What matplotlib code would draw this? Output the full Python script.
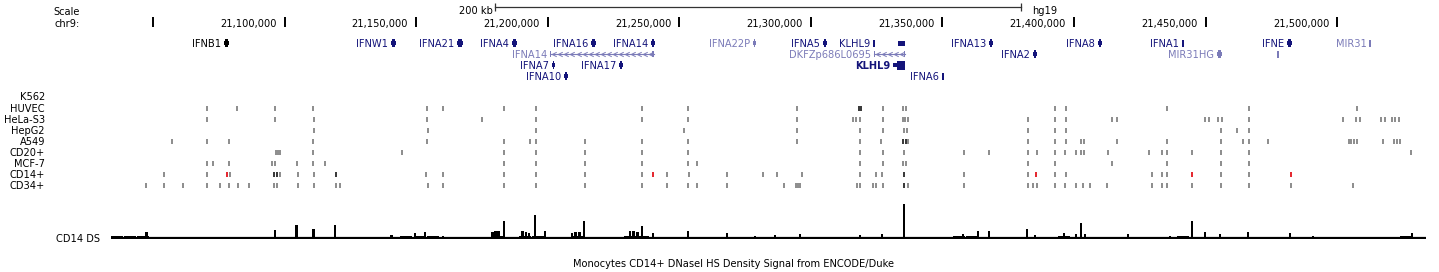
import numpy as np
import matplotlib
matplotlib.use('Agg')
from matplotlib import pyplot as plt
from matplotlib.patches import Rectangle
import matplotlib.transforms as mtransforms

W, H, DPI = 1439, 272, 100
X0, X1 = 20991.86, 21538.68   # chr9 position (kb) at the left / right image edge
FS = 7.1

# ---- ruler ----
ruler_pos = np.arange(21050, 21501, 50)
ruler_txt = ['', '21,100,000', '21,150,000', '21,200,000', '21,250,000', '21,300,000',
             '21,350,000', '21,400,000', '21,450,000', '21,500,000']
scale_bar = [21180, 21380]   # 200 kb

# ---- genes (kb) ----
gene_names = ['IFNB1', 'IFNW1', 'IFNA21', 'IFNA4', 'IFNA16', 'IFNA14', 'IFNA22P', 'IFNA5', 'KLHL9', '',
              'IFNA13', 'IFNA8', 'IFNA1', 'IFNE', 'MIR31',
              'IFNA14', 'DKFZp686L0695', 'IFNA2', 'MIR31HG', '',
              'IFNA7', 'IFNA17', 'KLHL9',
              'IFNA10', 'IFNA6']
gene_start = [21077.0, 21140.4, 21165.5, 21186.4, 21216.4, 21239.2, 21278.0, 21304.6, 21323.6, 21333.1,
              21367.7, 21409.1, 21440.9, 21480.9, 21512.1,
              21200.9, 21324.0, 21384.4, 21454.3, 21477.1,
              21201.6, 21227.1, 21331.2,
              21206.2, 21349.8]
gene_end = [21078.9, 21142.3, 21167.8, 21188.3, 21218.3, 21240.8, 21279.1, 21306.1, 21324.4, 21335.8,
            21369.2, 21410.6, 21441.7, 21482.8, 21512.7,
            21240.4, 21335.8, 21385.9, 21456.2, 21477.7,
            21202.8, 21228.6, 21335.8,
            21207.7, 21350.5]
gene_row = [0] * 15 + [1] * 5 + [2] * 3 + [3] * 2
gene_status = ['other', 'reviewed', 'reviewed', 'reviewed', 'reviewed', 'reviewed', 'noncoding', 'reviewed',
               'reviewed', 'reviewed', 'reviewed', 'reviewed', 'reviewed', 'reviewed', 'noncoding',
               'noncoding', 'noncoding', 'reviewed', 'noncoding', 'noncoding',
               'reviewed', 'reviewed', 'canonical',
               'reviewed', 'reviewed']

# ---- DNaseI hypersensitive sites (kb) ----
dhs_cells = ['K562', 'HUVEC', 'HeLa-S3', 'HepG2', 'A549', 'CD20+', 'MCF-7', 'CD14+', 'CD34+']
k562 = []
huvec = [21070.5, 21081.9, 21096.4, 21110.8, 21154.1, 21160.2, 21183.4, 21195.5, 21235.8, 21253.3,
         21294.7, 21318.2, 21318.9, 21327.4, 21335.0, 21336.1, 21392.8, 21396.9, 21435.3, 21466.5, 21507.5]
hela = [21070.5, 21096.4, 21111.2, 21154.1, 21175.0, 21195.5, 21235.8, 21253.3, 21294.7, 21316.0,
        21317.1, 21318.7, 21327.4, 21334.9, 21335.9, 21337.0, 21382.5, 21392.8, 21396.9, 21414.4,
        21416.3, 21449.8, 21451.3, 21454.7, 21456.2, 21466.5, 21502.2, 21507.1, 21508.7, 21516.6,
        21518.2, 21520.8, 21522.0, 21523.5]
hepg2 = [21111.2, 21154.5, 21195.5, 21251.8, 21294.7, 21318.7, 21327.4, 21335.4, 21336.5, 21382.5,
         21392.8, 21396.9, 21455.8, 21461.9, 21466.5]
a549 = [21057.2, 21070.5, 21078.9, 21110.8, 21154.1, 21183.4, 21193.3, 21195.5, 21214.2, 21235.8,
        21253.3, 21294.7, 21318.7, 21326.6, 21335.0, 21336.0, 21337.0, 21382.5, 21392.8, 21396.9,
        21402.5, 21403.7, 21416.3, 21435.3, 21455.8, 21464.2, 21466.5, 21473.7, 21504.3, 21505.4,
        21506.5, 21507.7, 21517.4, 21521.6, 21522.7, 21523.9]
cd20 = [21096.6, 21097.4, 21098.1, 21110.8, 21144.6, 21183.4, 21195.5, 21214.2, 21235.8, 21253.3,
        21318.7, 21327.4, 21335.4, 21358.2, 21367.7, 21382.5, 21385.9, 21392.8, 21396.6, 21400.7,
        21402.5, 21403.7, 21412.9, 21428.5, 21433.4, 21435.3, 21444.8, 21455.8, 21466.5, 21528.0]
mcf7 = [21070.5, 21072.8, 21078.9, 21095.2, 21096.4, 21104.7, 21110.8, 21115.4, 21183.4, 21195.5,
        21214.2, 21235.8, 21253.3, 21256.7, 21318.7, 21327.4, 21335.0, 21336.1, 21382.5, 21392.8,
        21414.4, 21435.3, 21455.8, 21466.5]
cd14 = [21054.2, 21070.5, 21078.1, 21079.3, 21096.0, 21097.1, 21098.3, 21105.1, 21111.2, 21119.5,
        21153.7, 21160.2, 21183.4, 21195.5, 21214.2, 21235.8, 21240.0, 21245.3, 21253.7, 21268.1,
        21281.8, 21287.1, 21296.6, 21318.7, 21324.7, 21327.0, 21335.4, 21358.2, 21382.5, 21385.5,
        21392.8, 21396.9, 21429.6, 21433.4, 21435.3, 21444.8, 21455.8, 21466.5, 21482.4]
cd34 = [21047.3, 21054.2, 21061.4, 21070.5, 21075.5, 21078.9, 21082.3, 21086.5, 21096.0, 21097.1,
        21105.1, 21111.2, 21119.7, 21120.9, 21154.5, 21160.2, 21183.4, 21195.5, 21214.2, 21235.8,
        21245.3, 21253.3, 21256.7, 21268.1, 21289.8, 21294.3, 21295.1, 21295.9, 21317.5, 21318.7,
        21323.6, 21324.7, 21327.4, 21335.4, 21336.9, 21358.2, 21382.5, 21384.4, 21385.9, 21392.8,
        21396.6, 21400.7, 21403.4, 21406.1, 21412.5, 21429.6, 21433.4, 21435.3, 21444.8, 21455.8,
        21466.5, 21482.4, 21506.0]
dhs_sites = [k562, huvec, hela, hepg2, a549, cd20, mcf7, cd14, cd34]
# strong sites (dark) and the CD14+ sites shown in red
strong_sites = {'HUVEC': [21318.2, 21318.9], 'A549': [21335.0, 21336.0],
                'CD14+': [21096.0, 21097.1, 21119.5, 21335.4], 'CD34+': [21335.4]}
red_sites = {'CD14+': [21078.1, 21240.0, 21385.5, 21444.8, 21482.4]}

# ---- CD14 DNaseI density signal ----
sig_start, sig_bin = 21034.0, 5.0
sig_base = [2.5, 2.5, 3, 2, 1.5, 1.5, 1, 1.5, 1, 1.5,
            1.5, 1, 1.5, 2, 2, 1.5, 1.5, 1, 1, 1,
            1.5, 2, 2.5, 3, 2.5, 1.5, 1, 1.5, 2, 3,
            1.5, 3, 3, 1.5, 1.5, 3, 2, 1, 1, 3,
            3, 2, 1.5, 2, 1, 1.5, 2, 1, 1, 1.5,
            2, 1.5, 2, 1, 1, 1.5, 1.5, 1, 1.5, 1,
            1, 1, 1.5, 1.5, 2.5, 2.5, 2, 1.5, 2, 1.5,
            1.5, 2, 2.5, 2, 1.5, 2, 1.5, 1, 1.5, 2,
            2, 2.5, 2, 1.5, 1, 1.5, 2, 1, 1.5, 2,
            2, 1.5, 1.5, 1, 1.5, 1.5, 1, 1.5, 2.5, 2]
peak_pos = [21047.6, 21096.4, 21104.6, 21110.9, 21119.2, 21140.7, 21149.6, 21153.4,
            21160.2, 21179.0, 21180.2, 21181.4, 21183.4, 21190.5, 21191.7, 21192.9, 21195.2, 21199.0,
            21209.2, 21210.6, 21212.0, 21213.8, 21231.3, 21232.7, 21234.2, 21235.8, 21240.0, 21253.3,
            21268.1, 21278.8, 21286.4, 21295.9, 21318.7, 21327.0, 21335.4, 21357.8, 21363.5, 21367.7,
            21382.1, 21385.2, 21396.2, 21400.8, 21402.6, 21404.2, 21420.5, 21436.5, 21444.8, 21449.8,
            21455.5, 21466.1, 21482.1, 21490.8, 21528.4]
peak_val = [6.5, 9, 13.5, 10, 13.5, 4, 6, 7,
            3, 7, 8, 7.5, 17.5, 8, 7, 6, 23.5, 8,
            6, 7, 6.5, 17.5, 7.5, 8, 6.5, 12.5, 6, 8,
            6, 3, 4, 5, 4, 5, 35, 5, 8, 8,
            10, 4, 6, 5, 15.5, 5, 5, 3, 17.5, 7,
            5, 7, 6, 3, 6]

DARK = '#14147a'
LIGHT = '#7b7bb8'
status_col = {'reviewed': DARK, 'canonical': DARK, 'noncoding': LIGHT, 'other': 'black'}

fig = plt.figure(figsize=(W / DPI, H / DPI), dpi=DPI)
ax = fig.add_axes([0, 0, 1, 1])
ax.set_xlim(X0, X1)
ax.set_ylim(H, 0)
ax.axis('off')
left = mtransforms.blended_transform_factory(ax.transAxes, ax.transData)

# scale bar + ruler
ax.plot(scale_bar, [7, 7], color='#333333', lw=0.9)
ax.vlines(scale_bar, 3, 11, color='#333333', lw=0.9)
ax.text(scale_bar[0] - 0.8, 14, '200 kb', ha='right', va='baseline', fontsize=FS)
ax.text(scale_bar[1] + 4.0, 14, 'hg19', ha='left', va='baseline', fontsize=FS)
ax.text(80 / W, 15, 'Scale', transform=left, ha='right', va='baseline', fontsize=FS)
ax.text(80 / W, 27, 'chr9:', transform=left, ha='right', va='baseline', fontsize=FS)
ax.vlines(ruler_pos, 17, 26.5, color='black', lw=1.4)
for p, t in zip(ruler_pos, ruler_txt):
    ax.text(p - 3.0, 27, t, ha='right', va='baseline', fontsize=FS)

# genes
gene_y = [43, 54, 65, 76]
for name, s, e, r, st in zip(gene_names, gene_start, gene_end, gene_row, gene_status):
    y = gene_y[r]
    col = status_col[st]
    n = e - s
    if n > 8:
        ax.plot([s, e], [y, y], color=col, lw=0.8)
        chev = np.arange(s + 1.6, e - 0.6, 2.3)
        ax.plot(chev, np.full(len(chev), y), ls='none', marker=[(1, 1), (-1, 0), (1, -1)],
                ms=3.2, mfc='none', mec=col, mew=0.7)
        ax.add_patch(Rectangle((s, y - 3), 0.4, 6, color=col, lw=0))
        ax.add_patch(Rectangle((e - 0.6, y - 3), 0.6, 6, color=col, lw=0))
    elif st == 'canonical':
        ax.add_patch(Rectangle((s, y - 2), n, 4, color=col, lw=0))
        ax.add_patch(Rectangle((s + 0.3 * n, y - 4.5), 0.7 * n, 9, color=col, lw=0))
    elif n > 2.5:
        ax.add_patch(Rectangle((s, y - 2.5), n, 5, color=col, lw=0))
    elif n < 1:
        ax.add_patch(Rectangle((s, y - 3.5), max(n, 0.5), 7, color=col, lw=0))
    else:
        ax.add_patch(Rectangle((s, y - 2), n, 4, color=col, lw=0))
        ax.add_patch(Rectangle((s + 0.2 * n, y - 4), 0.6 * n, 8, color=col, lw=0))
    if name:
        ax.text(s - 1.0, y + 3.6, name, ha='right', va='baseline', fontsize=FS, color=col,
                fontweight='bold' if st == 'canonical' else 'normal')

# DHS tracks
row_y = 97 + 11.1 * np.arange(len(dhs_cells))
for cell, y, sites in zip(dhs_cells, row_y, dhs_sites):
    ax.text(45 / W, y + 3.5, cell, transform=left, ha='right', va='baseline', fontsize=FS)
    strong = strong_sites.get(cell, [])
    red = red_sites.get(cell, [])
    grey = [v for v in sites if v not in strong and v not in red]
    ax.vlines(grey, y - 2.6, y + 2.6, color='#6e6e6e', lw=1.1)
    ax.vlines(strong, y - 2.6, y + 2.6, color='#262626', lw=1.3)
    ax.vlines(red, y - 2.6, y + 2.6, color='#e3141c', lw=1.3)

# signal track
ax.text(100 / W, 241.5, 'CD14 DS', transform=left, ha='right', va='baseline', fontsize=FS)
ax.text(0.51, 267, 'Monocytes CD14+ DNaseI HS Density Signal from ENCODE/Duke',
        transform=left, ha='center', va='baseline', fontsize=FS)

ax_sig = fig.add_axes([0, (H - 238.5) / H, 1, 36 / H])
ax_sig.set_xlim(X0, X1)
ax_sig.set_ylim(0, 36)
ax_sig.axis('off')
base_x = sig_start + sig_bin * np.arange(len(sig_base))
ax_sig.bar(base_x, sig_base, width=sig_bin * 0.92, align='edge', color='black', lw=0)
ax_sig.plot([sig_start, base_x[-1] + sig_bin * 0.92], [0.8, 0.8], color='black', lw=1.6,
            solid_capstyle='butt')
ax_sig.bar(peak_pos, peak_val, width=1.0, color='black', lw=0)

fig.savefig('out.png', dpi=DPI)
